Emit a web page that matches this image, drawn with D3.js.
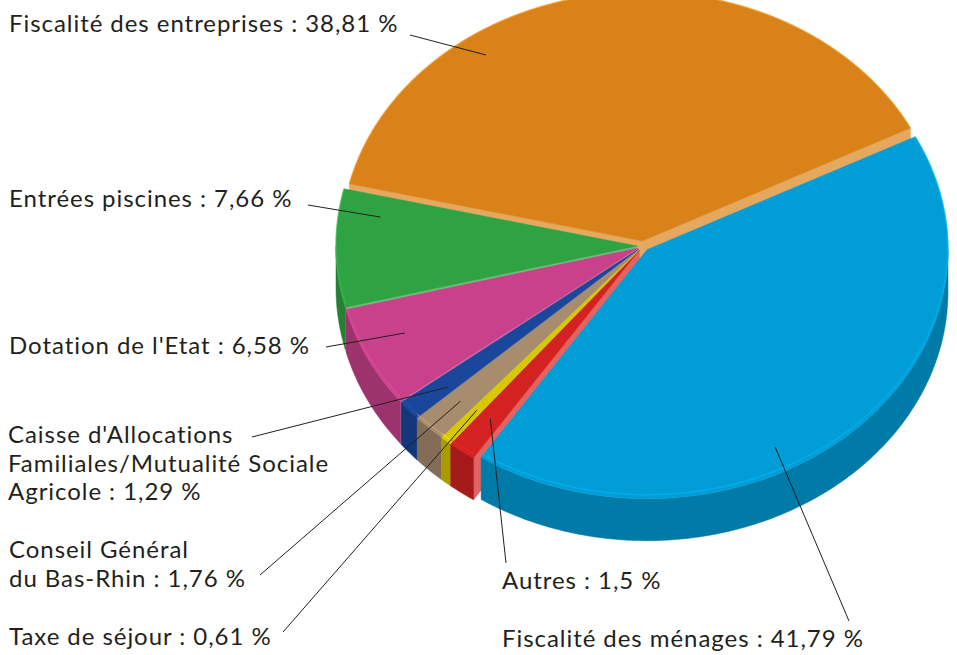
<!DOCTYPE html>
<meta charset="utf-8">
<body style="margin:0;background:#fff">
<script src="https://cdn.jsdelivr.net/npm/d3@7/dist/d3.min.js"></script>
<script>

  // data, in drawing order (clockwise from the upper right)
  const categories = ["Fiscalité des ménages", "Autres", "Taxe de séjour",
                      "Conseil Général du Bas-Rhin",
                      "Caisse d'Allocations Familiales/Mutualité Sociale Agricole",
                      "Dotation de l'Etat", "Entrées piscines", "Fiscalité des entreprises"]
  const values = [41.79, 1.5, 0.61, 1.76, 1.29, 6.58, 7.66, 38.81]
  const valueLabels = ["41,79", "1,5", "0,61", "1,76", "1,29", "6,58", "7,66", "38,81"]
  const labelLines = [
    ["Fiscalité des ménages : 41,79 %"],
    ["Autres : 1,5 %"],
    ["Taxe de séjour : 0,61 %"],
    ["Conseil Général", "du Bas-Rhin : 1,76 %"],
    ["Caisse d'Allocations", "Familiales/Mutualité Sociale", "Agricole : 1,29 %"],
    ["Dotation de l'Etat : 6,58 %"],
    ["Entrées piscines : 7,66 %"],
    ["Fiscalité des entreprises : 38,81 %"]
  ]
  const sliceColors = ["#009dd6", "#d42222", "#d8c800", "#a88c6e", "#1a479c", "#c8418a", "#2fa343", "#d9821a"]

  const width = 957,
        height = 655

  // pie geometry
  const cx = 643, cy = 246, rx = 301, ry = 249, depth = 42, explode = 6
  const startAngle = 63 * Math.PI / 180

  // label placement: first baseline, leader start, and where the leader hits the slice
  const labelLayout = [
    {x: 502, y: 647, lead: [849, 621], t: 0.59, r: 0.9},
    {x: 502, y: 589, lead: [506, 563], t: 0.5, r: 0.84},
    {x: 9, y: 645, lead: [283, 632], t: 0.5, r: 0.84},
    {x: 9, y: 558, lead: [260, 575], t: 0.5, r: 0.85},
    {x: 8, y: 443, lead: [252, 437], t: 0.3, r: 0.84},
    {x: 9, y: 354, lead: [326, 347], t: 0.6, r: 0.845},
    {x: 9, y: 207, lead: [308, 205], t: 0.8, r: 0.86},
    {x: 9, y: 32, lead: [410, 35], t: 0.3, r: 0.91}
  ]
  const lineStep = 28.7

  const svg = d3.select("body")
    .append("svg")
      .attr("width", width)
      .attr("height", height)

  const pie = d3.pie()
    .sort(null)
    .value(d => d)
    .startAngle(startAngle)
    .endAngle(startAngle + 2 * Math.PI)

  const slices = pie(values).map((d, i) => {
    const mid = (d.startAngle + d.endAngle) / 2
    return {
      a0: d.startAngle, a1: d.endAngle, i: i,
      color: sliceColors[i],
      ox: explode * Math.sin(mid),
      oy: -explode * Math.cos(mid) * ry / rx
    }
  })

  // point on the ellipse (angle from 12 o'clock, clockwise)
  function pt(s, a, r, dz) {
    return [cx + s.ox + r * rx * Math.sin(a), cy + s.oy - r * ry * Math.cos(a) + dz]
  }
  function arcPts(s, a0, a1, dz) {
    const n = Math.max(2, Math.ceil(Math.abs(a1 - a0) / 0.01))
    return d3.range(n + 1).map(k => pt(s, a0 + (a1 - a0) * k / n, 1, dz))
  }
  const line = d3.line()
  const closed = pts => line(pts) + "Z"
  const pale = c => d3.interpolateRgb(c, "#fff")(0.3)

  // walls first (back to front), then the tops
  const walls = []
  slices.forEach(s => {
    // outer wall: only the part facing the viewer
    [[Math.PI / 2, 3 * Math.PI / 2], [5 * Math.PI / 2, 7 * Math.PI / 2]].forEach(([v0, v1]) => {
      const b0 = Math.max(s.a0, v0), b1 = Math.min(s.a1, v1)
      if (b1 > b0) {
        const pts = arcPts(s, b0, b1, 0).concat(arcPts(s, b1, b0, depth))
        walls.push({d: closed(pts), fill: d3.color(s.color).darker(0.7), z: d3.mean(pts, p => p[1])})
      }
    })
    // radial walls
    const c0 = pt(s, 0, 0, 0), c1 = pt(s, 0, 0, depth)
    if (Math.sin(s.a0) < 0) {
      const pts = [c0, pt(s, s.a0, 1, 0), pt(s, s.a0, 1, depth), c1]
      walls.push({d: closed(pts), fill: pale(s.color), z: d3.mean(pts, p => p[1])})
    }
    if (Math.sin(s.a1) > 0) {
      const pts = [c0, pt(s, s.a1, 1, 0), pt(s, s.a1, 1, depth), c1]
      walls.push({d: closed(pts), fill: pale(s.color), z: d3.mean(pts, p => p[1])})
    }
  })
  walls.sort((a, b) => a.z - b.z)

  const pieG = svg.append("g").attr("id", "pie")

  pieG.selectAll(".wall")
    .data(walls)
    .enter()
    .append("path")
      .attr("class", "wall")
      .attr("d", d => d.d)
      .attr("fill", d => d.fill)
      .attr("stroke", d => d.fill)
      .attr("stroke-width", 0.5)

  pieG.selectAll(".top")
    .data(slices)
    .enter()
    .append("path")
      .attr("class", "top")
      .attr("d", s => closed([pt(s, 0, 0, 0)].concat(arcPts(s, s.a0, s.a1, 0))))
      .attr("fill", s => s.color)
      .attr("stroke", s => s.color)
      .attr("stroke-width", 0.5)

  // soft rim highlight along the front edge of each top
  pieG.selectAll(".rim")
    .data(slices)
    .enter()
    .append("path")
      .attr("class", "rim")
      .attr("d", s => line(arcPts(s, s.a0, s.a1, 0).map(p => [p[0], p[1] - 4 * (p[1] > cy ? 1 : 0)])))
      .attr("fill", "none")
      .attr("stroke", s => d3.color(s.color).brighter(0.5))
      .attr("stroke-width", 1.5)
      .attr("opacity", 0.5)

  // labels and leader lines
  const labels = svg.append("g").attr("id", "labels")

  slices.forEach((s, i) => {
    const L = labelLayout[i]
    const a = s.a0 + (s.a1 - s.a0) * L.t
    const end = pt(s, a, L.r, 0)
    labels.append("line")
      .attr("x1", L.lead[0]).attr("y1", L.lead[1])
      .attr("x2", end[0]).attr("y2", end[1])
      .attr("stroke", "#231f20")
      .attr("stroke-width", 1)

    labels.append("text")
      .attr("x", L.x)
      .attr("y", L.y)
      .style("font-family", "Lato")
      .style("font-size", "24px")
      .style("letter-spacing", "0.95px")
      .style("fill", "#231f20")
      .selectAll("tspan")
      .data(labelLines[i])
      .enter()
      .append("tspan")
        .attr("x", L.x)
        .attr("dy", (d, k) => k ? lineStep : 0)
        .text(d => d)
  })

</script>
